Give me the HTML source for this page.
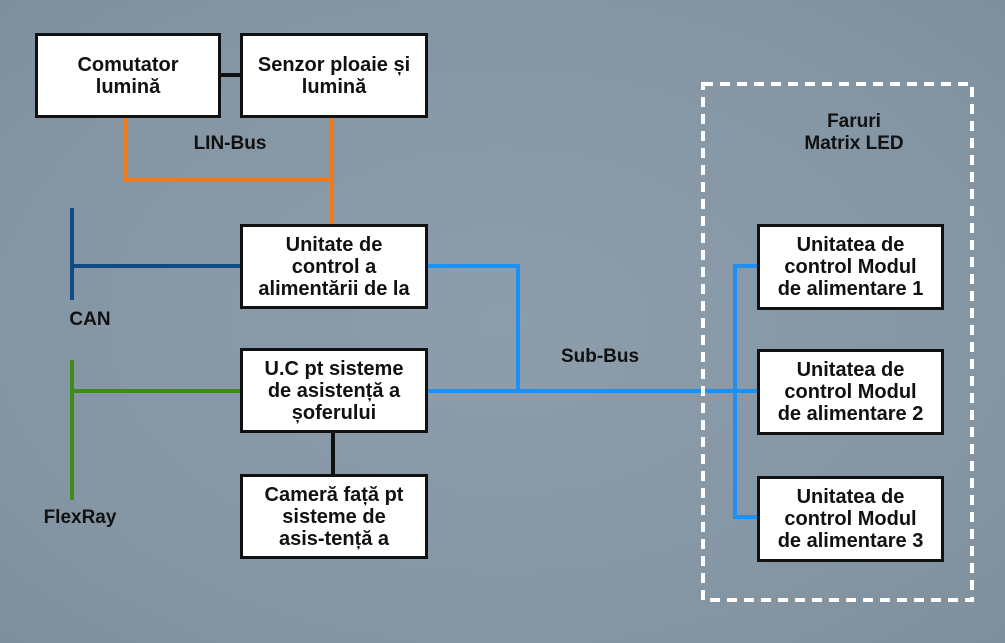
<!DOCTYPE html>
<html><head><meta charset="utf-8"><style>
body{margin:0;width:1005px;height:643px;overflow:hidden;background:radial-gradient(ellipse at 50% 50%,#8d9dab 0%,#8495a3 70%,#7e8f9e 100%);font-family:"Liberation Sans",sans-serif;font-weight:bold;}
.b{position:absolute;background:#fff;border:3px solid #111;box-sizing:border-box;display:flex;align-items:center;justify-content:center;text-align:center;font-size:20px;line-height:22px;color:#111;}
.l{position:absolute;font-size:19px;color:#111;text-align:center;line-height:22px;}
svg{position:absolute;left:0;top:0}
</style></head><body>
<svg width="1005" height="643">
<g fill="none" stroke-width="4">
<path d="M220 75H240" stroke="#111"/>
<path d="M125 117V180H332M332 117V225" stroke="#ee7a1c"/>
<path d="M72 208V300M72 266H240" stroke="#0f4c86"/>
<path d="M72 360V500M72 391H240" stroke="#3f8a1c"/>
<path d="M333 432V474" stroke="#111"/>
<path d="M427 266H518V391M427 391H758M758 266H735V517H758" stroke="#1e90f0"/>
<rect x="703" y="84" width="269" height="516" stroke="#fff" stroke-dasharray="10 7"/>
</g></svg>
<div class="b" style="left:35px;top:33px;width:186px;height:85px">Comutator<br>lumină</div>
<div class="b" style="left:240px;top:33px;width:188px;height:85px">Senzor ploaie și<br>lumină</div>
<div class="b" style="left:240px;top:224px;width:188px;height:85px">Unitate de<br>control a<br>alimentării de la</div>
<div class="b" style="left:240px;top:348px;width:188px;height:85px">U.C pt sisteme<br>de asistență a<br>șoferului</div>
<div class="b" style="left:240px;top:474px;width:188px;height:85px">Cameră față pt<br>sisteme de<br>asis-tență a</div>
<div class="b" style="left:757px;top:224px;width:187px;height:86px">Unitatea de<br>control Modul<br>de alimentare 1</div>
<div class="b" style="left:757px;top:349px;width:187px;height:86px">Unitatea de<br>control Modul<br>de alimentare 2</div>
<div class="b" style="left:757px;top:476px;width:187px;height:86px">Unitatea de<br>control Modul<br>de alimentare 3</div>
<div class="l" style="left:180px;top:133px;width:100px">LIN-Bus</div>
<div class="l" style="left:60px;top:309px;width:60px">CAN</div>
<div class="l" style="left:30px;top:507px;width:100px">FlexRay</div>
<div class="l" style="left:550px;top:346px;width:100px">Sub-Bus</div>
<div class="l" style="left:774px;top:111px;width:160px">Faruri<br>Matrix LED</div>
</body></html>
